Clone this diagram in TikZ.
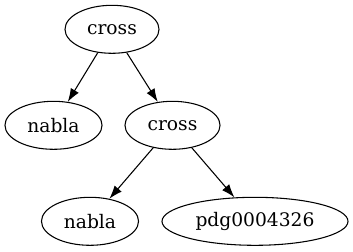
\documentclass[tikz,border=0pt]{standalone}
\usepackage{fontspec}
\setmainfont{DejaVu Serif}
\usetikzlibrary{arrows.meta,shapes.geometric}
\begin{document}
\begin{tikzpicture}[x=0.75pt,y=-0.75pt,
  gnode/.style={draw, ellipse, line width=0.8pt, inner sep=0pt, minimum height=36pt, font=\fontsize{14pt}{16pt}\selectfont},
  gedge/.style={draw, line width=0.8pt, -{Latex[length=10pt,width=7pt]}}]
\useasboundingbox (0,0) rectangle (353,251);
\node[gnode, minimum width=70.5pt] (c1) at (112,29.3) {cross};
\node[gnode, minimum width=72.8pt] (n1) at (53.5,125.3) {nabla};
\node[gnode, minimum width=71.3pt] (c2) at (172.5,125.3) {cross};
\node[gnode, minimum width=72.8pt] (n2) at (90,221.3) {nabla};
\node[gnode, minimum width=139.5pt] (p) at (255,221.3) {pdg0004326};
\draw[gedge] (c1) -- (n1);
\draw[gedge] (c1) -- (c2);
\draw[gedge] (c2) -- (n2);
\draw[gedge] (c2) -- (p);
\end{tikzpicture}
\end{document}
